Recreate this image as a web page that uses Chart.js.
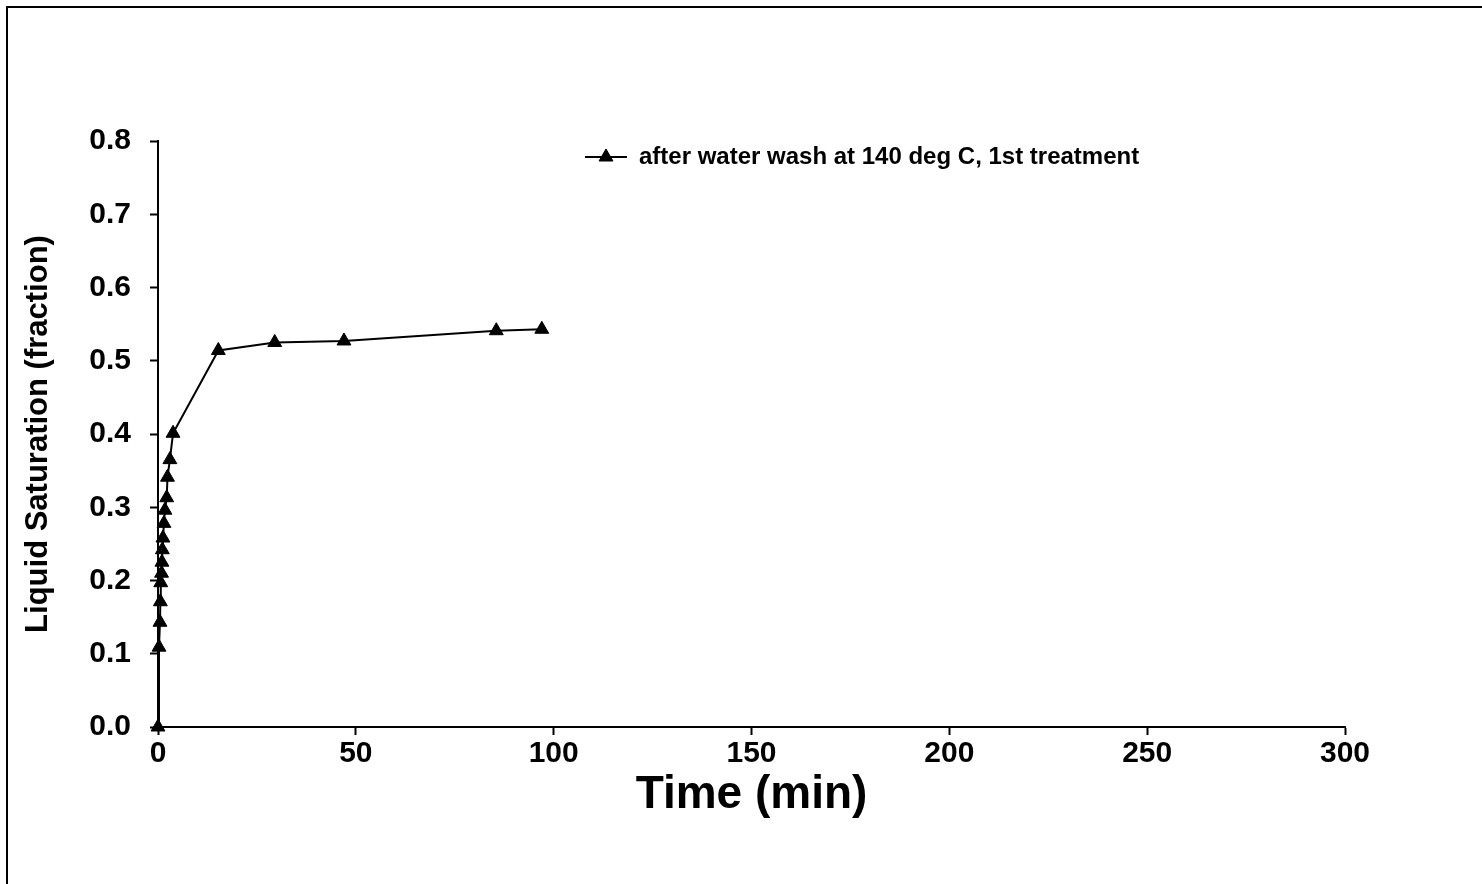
<!DOCTYPE html>
<html>
<head>
<meta charset="utf-8">
<title>Liquid Saturation vs Time</title>
<script src="https://cdn.jsdelivr.net/npm/chart.js@4.4.1/dist/chart.umd.min.js"></script>
<style>
    html, body { margin: 0; padding: 0; background: #fff; }
    #wrap { width: 1482px; height: 884px; }
</style>
</head>
<body>
<div id="wrap"><canvas id="satChart" width="1482" height="884"></canvas></div>
<script>
// data
const timeMin = [0, 0.25, 0.5, 0.6, 0.7, 0.9, 1.0, 1.1, 1.25, 1.5, 1.75, 2.2, 2.4, 3.0, 3.8,
                 15.25, 29.5, 47.0, 85.5, 97.0];
const saturation = [0.0, 0.109, 0.143, 0.171, 0.197, 0.21, 0.225, 0.242, 0.258, 0.278, 0.296, 0.313, 0.341, 0.365, 0.401,
                    0.514, 0.525, 0.527, 0.541, 0.543];
const seriesLabel = 'after water wash at 140 deg C, 1st treatment';
const xTicks = [0, 50, 100, 150, 200, 250, 300];
const yTicks = [0, 0.1, 0.2, 0.3, 0.4, 0.5, 0.6, 0.7, 0.8];

const FONT = '"Liberation Sans", Arial, sans-serif';

// white page + the outer frame (left and top edges only show)
const framePlugin = {
    id: 'frame',
    beforeDraw(chart) {
        const ctx = chart.ctx;
        ctx.save();
        ctx.fillStyle = '#fff';
        ctx.fillRect(0, 0, chart.width, chart.height);
        ctx.strokeStyle = '#000';
        ctx.lineWidth = 2;
        ctx.strokeRect(7, 7, chart.width + 20, chart.height + 20);
        ctx.restore();
    }
};

// put the legend inside the plot, near the top
const legendPlacer = {
    id: 'legendPlacer',
    afterLayout(chart) {
        const lg = chart.legend;
        const w = lg.width, h = lg.height;
        lg.left = 575;
        lg.top = 135;
        lg.right = lg.left + w;
        lg.bottom = lg.top + h;
    },
    afterDraw(chart) {
        // marker on top of the legend line
        const box = chart.legend.legendHitBoxes[0];
        if (!box) return;
        const ctx = chart.ctx;
        ctx.save();
        ctx.fillStyle = '#000';
        ctx.strokeStyle = '#000';
        Chart.helpers.drawPoint(ctx, {pointStyle: 'triangle', radius: 8, borderWidth: 1},
            box.left + 21, box.top + box.height / 2);
        ctx.restore();
    }
};

const ctx = document.getElementById('satChart').getContext('2d');
const chart = new Chart(ctx, {
    type: 'scatter',
    data: {
        datasets: [{
            label: seriesLabel,
            data: timeMin.map((t, i) => ({x: t, y: saturation[i]})),
            showLine: true,
            clip: false,
            borderColor: '#000',
            backgroundColor: '#000',
            borderWidth: 2,
            pointStyle: 'triangle',
            pointRadius: 8,
            pointBorderWidth: 1,
            pointBackgroundColor: '#000',
            pointBorderColor: '#000',
            tension: 0
        }]
    },
    options: {
        responsive: false,
        animation: false,
        layout: {
            padding: {left: 0, top: 141, right: 137, bottom: 0}
        },
        plugins: {
            tooltip: {enabled: false},
            legend: {
                display: true,
                position: 'chartArea',
                align: 'start',
                labels: {
                    usePointStyle: false,
                    boxWidth: 42,
                    boxHeight: 2,
                    color: '#000',
                    font: {family: FONT, size: 24, weight: 'bold'},
                    generateLabels(chart) {
                        return [{
                            text: seriesLabel,
                            fillStyle: '#000',
                            strokeStyle: '#000',
                            lineWidth: 0,
                            datasetIndex: 0
                        }];
                    }
                }
            }
        },
        scales: {
            x: {
                type: 'linear',
                min: 0,
                max: 300,
                afterBuildTicks(scale) {
                    scale.ticks = xTicks.map(v => ({value: v}));
                },
                afterFit(scale) { scale.height = 884 - 727; },
                border: {display: true, color: '#000', width: 2},
                grid: {
                    display: true,
                    drawOnChartArea: false,
                    drawTicks: true,
                    tickLength: 8,
                    tickColor: '#000',
                    tickWidth: 2
                },
                ticks: {
                    color: '#000',
                    padding: 1,
                    font: {family: FONT, size: 30, weight: 'bold'}
                },
                title: {
                    display: true,
                    text: 'Time (min)',
                    color: '#000',
                    font: {family: FONT, size: 46, weight: 'bold', lineHeight: 1.2},
                    padding: {top: 0, bottom: 61}
                }
            },
            y: {
                type: 'linear',
                min: 0,
                max: 0.8,
                afterBuildTicks(scale) {
                    scale.ticks = yTicks.map(v => ({value: v}));
                },
                afterFit(scale) { scale.width = 158; },
                border: {display: true, color: '#000', width: 2},
                grid: {
                    display: true,
                    drawOnChartArea: false,
                    drawTicks: true,
                    tickLength: 8,
                    tickColor: '#000',
                    tickWidth: 2
                },
                ticks: {
                    color: '#000',
                    padding: 19,
                    font: {family: FONT, size: 30, weight: 'bold'},
                    callback: v => Number(v).toFixed(1)
                },
                title: {
                    display: true,
                    text: 'Liquid Saturation (fraction)',
                    color: '#000',
                    font: {family: FONT, size: 31, weight: 'bold', lineHeight: 1.2},
                    padding: {top: 20, bottom: 0}
                }
            }
        }
    },
    plugins: [framePlugin, legendPlacer]
});
</script>
</body>
</html>
